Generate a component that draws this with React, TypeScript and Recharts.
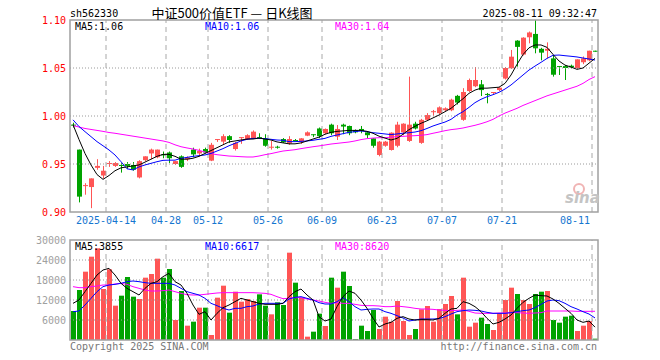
import React from "react";
import { ComposedChart, Bar, Line, XAxis, YAxis, ReferenceLine, Cell } from "recharts";

const YEAR = "2025";
const DATES = [
  "04-03", "04-07", "04-08", "04-09", "04-10", "04-11",
  "04-14", "04-15", "04-16", "04-17", "04-18",
  "04-21", "04-22", "04-23", "04-24", "04-25",
  "04-28", "04-29", "04-30",
  "05-06", "05-07", "05-08", "05-09",
  "05-12", "05-13", "05-14", "05-15", "05-16",
  "05-19", "05-20", "05-21", "05-22", "05-23",
  "05-26", "05-27", "05-28", "05-29", "05-30",
  "06-03", "06-04", "06-05", "06-06",
  "06-09", "06-10", "06-11", "06-12", "06-13",
  "06-16", "06-17", "06-18", "06-19", "06-20",
  "06-23", "06-24", "06-25", "06-26", "06-27",
  "06-30", "07-01", "07-02", "07-03", "07-04",
  "07-07", "07-08", "07-09", "07-10", "07-11",
  "07-14", "07-15", "07-16", "07-17", "07-18",
  "07-21", "07-22", "07-23", "07-24", "07-25",
  "07-28", "07-29", "07-30", "07-31", "08-01",
  "08-04", "08-05", "08-06", "08-07", "08-08",
  "08-11",
];
const TICK_DATES = ["04-14", "04-28", "05-12", "05-26", "06-09", "06-23", "07-07", "07-21", "08-11"];

const OPEN = [
  0.991, 0.965, 0.927, 0.926, 0.946, 0.938, 0.950, 0.948, 0.949, 0.950,
  0.949, 0.936, 0.954, 0.961, 0.957, 0.960, 0.962, 0.950, 0.958, 0.955,
  0.965, 0.961, 0.9656, 0.9535, 0.975, 0.9733, 0.979, 0.9656, 0.977, 0.9757,
  0.9767, 0.978, 0.9767, 0.967, 0.968, 0.976, 0.9715, 0.975, 0.9733, 0.9795,
  0.981, 0.987, 0.982, 0.991, 0.9785, 0.991, 0.9896, 0.9854, 0.9865, 0.983,
  0.9767, 0.9594, 0.969, 0.9646, 0.969, 0.983, 0.974, 0.992, 0.972, 0.996,
  1.004, 1.003, 1.006, 1.006, 1.021, 0.996, 1.026, 1.031, 1.033, 1.023,
  1.024, 1.027, 1.039, 1.0497, 1.0785, 1.064, 1.082, 1.0855, 1.070, 1.068,
  1.060, 1.052, 1.052, 1.0524, 1.050, 1.056, 1.058, 1.068,
];
const HIGH = [
  0.993, 0.965, 0.930, 0.935, 0.955, 0.948, 0.953, 0.952, 0.951, 0.952,
  0.952, 0.954, 0.958, 0.966, 0.965, 0.963, 0.963, 0.953, 0.959, 0.958,
  0.967, 0.966, 0.967, 0.972, 0.976, 0.981, 0.980, 0.973, 0.978, 0.981,
  0.985, 0.982, 0.981, 0.974, 0.969, 0.977, 0.979, 0.976, 0.977, 0.984,
  0.981, 0.988, 0.987, 0.992, 0.9906, 0.992, 0.990, 0.986, 0.9896, 0.984,
  0.977, 0.974, 0.974, 0.983, 0.994, 0.9924, 1.041, 0.994, 0.997, 1.003,
  1.0063, 1.010, 1.009, 1.018, 1.022, 1.029, 1.039, 1.051, 1.0375, 1.024,
  1.025, 1.030, 1.051, 1.0688, 1.079, 1.082, 1.088, 1.100, 1.071, 1.0767,
  1.0635, 1.052, 1.053, 1.0535, 1.059, 1.062, 1.068, 1.068,
];
const LOW = [
  0.988, 0.910, 0.918, 0.904, 0.944, 0.935, 0.947, 0.947, 0.941, 0.945,
  0.943, 0.935, 0.953, 0.955, 0.956, 0.956, 0.951, 0.949, 0.946, 0.953,
  0.957, 0.958, 0.961, 0.953, 0.973, 0.9705, 0.972, 0.964, 0.971, 0.975,
  0.976, 0.976, 0.968, 0.965, 0.966, 0.972, 0.970, 0.974, 0.971, 0.979,
  0.978, 0.977, 0.981, 0.980, 0.975, 0.981, 0.980, 0.982, 0.982, 0.9767,
  0.967, 0.958, 0.968, 0.964, 0.9674, 0.980, 0.973, 0.986, 0.971, 0.995,
  1.0003, 1.002, 1.005, 1.005, 1.012, 0.995, 1.025, 1.030, 1.0208, 1.0132,
  1.022, 1.026, 1.038, 1.049, 1.0514, 1.063, 1.0757, 1.0653, 1.058, 1.060,
  1.041, 1.0427, 1.0375, 1.0497, 1.049, 1.054, 1.057, 1.067,
];
const CLOSE = [
  0.990, 0.916, 0.928, 0.935, 0.948, 0.943, 0.951, 0.951, 0.948, 0.948,
  0.944, 0.953, 0.958, 0.965, 0.965, 0.959, 0.956, 0.953, 0.947, 0.957,
  0.960, 0.9635, 0.962, 0.970, 0.976, 0.979, 0.975, 0.972, 0.978, 0.980,
  0.9837, 0.977, 0.969, 0.968, 0.967, 0.9726, 0.976, 0.9745, 0.9767, 0.983,
  0.9805, 0.979, 0.9865, 0.982, 0.9865, 0.989, 0.982, 0.983, 0.9844, 0.980,
  0.969, 0.9733, 0.9733, 0.9826, 0.991, 0.992, 0.991, 0.987, 0.996, 1.001,
  1.005, 1.009, 1.008, 1.017, 1.014, 1.025, 1.0375, 1.0375, 1.027, 1.022,
  1.025, 1.0295, 1.050, 1.0618, 1.072, 1.0816, 1.087, 1.0705, 1.066, 1.070,
  1.043, 1.051, 1.050, 1.0507, 1.059, 1.060, 1.068, 1.0675,
];
const MA5 = [
  0.991, 0.9755, 0.961, 0.949, 0.939, 0.934, 0.938, 0.943, 0.946, 0.947,
  0.948, 0.949, 0.952, 0.955, 0.958, 0.960, 0.960, 0.958, 0.955, 0.955,
  0.956, 0.958, 0.961, 0.964, 0.967, 0.970, 0.973, 0.974, 0.975, 0.976,
  0.976, 0.977, 0.976, 0.975, 0.973, 0.972, 0.971, 0.971, 0.972, 0.974,
  0.976, 0.978, 0.981, 0.983, 0.984, 0.9845, 0.985, 0.985, 0.985, 0.984,
  0.982, 0.979, 0.977, 0.975, 0.9767, 0.981, 0.9858, 0.9892, 0.9924, 0.995,
  0.998, 1.001, 1.0045, 1.008, 1.013, 1.018, 1.0236, 1.027, 1.029, 1.029,
  1.0295, 1.030, 1.034, 1.0427, 1.0538, 1.064, 1.071, 1.074, 1.074, 1.0715,
  1.0642, 1.0573, 1.053, 1.051, 1.0486, 1.050, 1.055, 1.060,
];
const MA10 = [
  0.996, 0.989, 0.9837, 0.9785, 0.9733, 0.969, 0.9646, 0.9594, 0.9524, 0.945,
  0.9438, 0.947, 0.949, 0.9507, 0.9524, 0.9538, 0.954, 0.954, 0.9559, 0.9569,
  0.958, 0.9587, 0.9594, 0.961, 0.9635, 0.966, 0.969, 0.9715, 0.974, 0.9757,
  0.9767, 0.9767, 0.9764, 0.9757, 0.975, 0.9747, 0.9733, 0.9733, 0.9736, 0.974,
  0.9747, 0.9757, 0.9767, 0.9788, 0.9802, 0.9816, 0.983, 0.9837, 0.9844, 0.9837,
  0.9826, 0.982, 0.9813, 0.9806, 0.9813, 0.982, 0.9826, 0.9833, 0.9847, 0.987,
  0.9896, 0.9917, 0.9937, 0.9965, 1.001, 1.0045, 1.009, 1.0139, 1.0174, 1.0201,
  1.0222, 1.0247, 1.0281, 1.0323, 1.0375, 1.0427, 1.0479, 1.052, 1.0559, 1.060,
  1.0632, 1.0635, 1.0628, 1.0622, 1.0615, 1.0604, 1.0594, 1.0583,
];
const MA30 = [
  0.990, 0.9885, 0.987, 0.986, 0.985, 0.984, 0.9828, 0.982, 0.981, 0.980,
  0.979, 0.978, 0.977, 0.976, 0.975, 0.974, 0.9725, 0.970, 0.968, 0.9667,
  0.9656, 0.9642, 0.9625, 0.9608, 0.9597, 0.959, 0.9583, 0.958, 0.9576, 0.9573,
  0.9573, 0.9583, 0.9597, 0.9608, 0.9622, 0.9635, 0.9642, 0.9649, 0.966, 0.967,
  0.968, 0.9688, 0.9698, 0.9708, 0.9715, 0.9722, 0.9729, 0.974, 0.9754, 0.9764,
  0.977, 0.9774, 0.9774, 0.978, 0.9785, 0.9788, 0.9792, 0.9795, 0.9799, 0.9806,
  0.982, 0.9833, 0.9847, 0.9858, 0.9865, 0.9875, 0.9889, 0.9903, 0.992, 0.994,
  0.9965, 1.000, 1.003, 1.0055, 1.008, 1.011, 1.0135, 1.016, 1.0185, 1.021,
  1.023, 1.025, 1.027, 1.029, 1.031, 1.034, 1.038, 1.041,
];
const VOLUME = [
  8700, 15000, 20500, 25000, 27500, 15300, 21200, 10300, 13300, 18900,
  13000, 12300, 18700, 19800, 24400, 18700, 21300, 6000, 14700, 4300,
  5500, 9700, 9700, 1500, 12700, 16300, 8200, 14500, 11500, 12300,
  11700, 13700, 10300, 7700, 11300, 10500, 26200, 17200, 12700, 1000,
  2500, 7900, 4200, 18700, 15700, 20500, 16200, 300, 4300, 2700,
  9000, 3300, 7000, 5500, 11700, 5700, 1500, 3300, 9200, 10200,
  5500, 9300, 10800, 13200, 7700, 18700, 4000, 5200, 6700, 4800,
  3000, 8000, 12000, 15700, 13800, 12000, 10800, 13800, 14500, 14700,
  6000, 5200, 7000, 7300, 2700, 4300, 5700, 400,
];
const VMA5 = [
  11000, 12000, 14500, 17000, 19500, 21000, 21500, 19500, 17000, 15500,
  14500, 13500, 15500, 17000, 17500, 19000, 20000, 17500, 16500, 14000,
  10500, 7700, 8500, 6000, 8000, 9700, 10500, 11500, 12500, 12000,
  11500, 11000, 10700, 10700, 10700, 11000, 13000, 14500, 15300, 13500,
  12000, 7000, 5700, 6300, 10000, 13000, 14700, 14000, 12000, 9500,
  6500, 3900, 4800, 5300, 6500, 7000, 6300, 6000, 6100, 6100,
  6000, 6500, 8000, 9300, 9500, 11500, 11000, 10000, 8500, 6500,
  4800, 5300, 6300, 7500, 9500, 11300, 12500, 13500, 13300, 13200,
  12300, 11000, 9500, 8000, 6000, 5300, 5700, 3855,
];
const VMA10 = [
  8500, 8700, 10500, 12500, 14500, 16000, 16500, 16700, 17000, 17500,
  17700, 17500, 17200, 17000, 17000, 17000, 17000, 16500, 15500, 14500,
  14000, 13500, 12500, 11000, 10300, 9500, 9000, 9500, 9500, 10000,
  10200, 10800, 11000, 11000, 11000, 11000, 12300, 12800, 13000, 12500,
  12000, 11200, 10800, 10800, 11500, 12700, 11500, 10000, 9000, 9200,
  9300, 9300, 8500, 8000, 7300, 6600, 5700, 6000, 6300, 6300,
  6300, 6400, 7000, 7800, 8500, 8800, 9000, 8900, 8700, 8300,
  8000, 8000, 8000, 8200, 8500, 8800, 9000, 9700, 10700, 11700,
  12000, 11800, 11000, 10000, 9300, 8500, 7800, 6617,
];
const VMA30 = [
  16000, 15700, 15700, 16000, 16200, 16500, 16500, 16800, 17000, 16700,
  16000, 15500, 15000, 14700, 14700, 14800, 15000, 14500, 14000, 13600,
  13500, 13500, 13700, 13900, 14100, 14200, 14200, 14200, 14200, 14200,
  14200, 14100, 14000, 13700, 13000, 12400, 12500, 12700, 12700, 12300,
  12000, 11700, 11300, 11000, 11200, 11000, 11000, 10700, 10400, 10300,
  10300, 10200, 10000, 10000, 10200, 10000, 9800, 9500, 9300, 9300,
  9200, 9000, 8900, 8800, 8900, 9000, 8600, 8100, 8000, 8000,
  8000, 8100, 8100, 8200, 8200, 8100, 8000, 8100, 8200, 8700,
  8700, 8700, 8700, 8700, 8600, 8600, 8600, 8620,
];

const PRICE_TICKS = [0.9, 0.95, 1.0, 1.05, 1.1];
const PRICE_GRID = [0.95, 1.0, 1.05];
const VOL_TICKS = [6000, 12000, 18000, 24000, 30000];
const VOL_GRID = [6000, 12000, 18000, 24000];

const RED = "#ff5555";
const GREEN = "#00a300";
const MONO = "'DejaVu Sans Mono', monospace";

const priceData = DATES.map((date, i) => ({
  date,
  o: OPEN[i],
  h: HIGH[i],
  l: LOW[i],
  c: CLOSE[i],
  ma5: MA5[i],
  ma10: MA10[i],
  ma30: MA30[i],
}));

const volData = DATES.map((date, i) => ({
  date,
  vol: VOLUME[i],
  up: CLOSE[i] >= OPEN[i],
  vma5: VMA5[i],
  vma10: VMA10[i],
  vma30: VMA30[i],
}));

function Candle(props: any) {
  const { x, y, width, height, payload } = props;
  const { o, h, l, c } = payload;
  const top = Math.min(y, y + height);
  const span = Math.abs(height);
  const ppu = h > l ? span / (h - l) : 0;
  const yOf = (v: number) => top + (h - v) * ppu;
  const color = c >= o ? RED : GREEN;
  const bodyTop = yOf(Math.max(o, c));
  const bodyH = Math.max(1, Math.abs(yOf(o) - yOf(c)));
  const left = Math.round(x);
  const mid = left + Math.floor(width / 2) + 0.5;
  return (
    <g>
      <line x1={mid} x2={mid} y1={top} y2={top + span} stroke={color} strokeWidth={1} />
      <rect x={left} y={bodyTop} width={Math.round(width)} height={bodyH} fill={color} />
    </g>
  );
}

function DateTick(props: any) {
  const { x, y, payload } = props;
  const v = payload.value;
  if (!TICK_DATES.includes(v)) return null;
  const half = payload.offset ?? 3;
  const first = v === TICK_DATES[0];
  const last = v === TICK_DATES[TICK_DATES.length - 1];
  return (
    <text
      x={last ? x - half - 2 : x - half}
      y={y + 12}
      textAnchor={last ? "end" : "middle"}
      fill="#1576d0"
      fontSize={10}
      fontFamily={MONO}
    >
      {first ? `${YEAR}-${v}` : v}
    </text>
  );
}

const gridH = { stroke: "#9a9a9a", strokeDasharray: "1 2" };
const gridV = { stroke: "#a8a8a8", strokeDasharray: "5 4" };

export default function App() {
  return (
    <div style={{ position: "absolute", left: 0, top: 0, width: 660, height: 360, background: "#fff" }}>
      <div style={{ position: "absolute", left: 0, top: 0 }}>
        <ComposedChart width={660} height={230} data={priceData} margin={{ top: 20, right: 62, bottom: 0, left: 0 }}>
          <XAxis
            dataKey="date"
            interval={0}
            axisLine={false}
            tickLine={false}
            tickSize={0}
            tickMargin={0}
            height={18}
            tick={<DateTick />}
          />
          <YAxis
            type="number"
            domain={[0.9, 1.1]}
            ticks={PRICE_TICKS}
            allowDataOverflow
            width={70}
            axisLine={false}
            tickLine={false}
            tickSize={0}
            tickMargin={4}
            tickFormatter={(v: number) => v.toFixed(2)}
            tick={{ fill: "#ff0000", fontSize: 10, fontFamily: MONO }}
          />
          {PRICE_GRID.map((v) => (
            <ReferenceLine key={v} y={v} {...gridH} />
          ))}
          {TICK_DATES.map((d) => (
            <ReferenceLine key={d} x={d} position="start" {...gridV} />
          ))}
          <Bar
            dataKey={(d: any) => [d.l, d.h]}
            barSize={5}
            shape={<Candle />}
            isAnimationActive={false}
          />
          <Line type="linear" dataKey="ma30" stroke="#ff00ff" strokeWidth={1} dot={false} isAnimationActive={false} />
          <Line type="linear" dataKey="ma10" stroke="#0000ff" strokeWidth={1} dot={false} isAnimationActive={false} />
          <Line type="linear" dataKey="ma5" stroke="#000000" strokeWidth={1} dot={false} isAnimationActive={false} />
        </ComposedChart>
      </div>
      <div style={{ position: "absolute", left: 0, top: 230 }}>
        <ComposedChart width={660} height={130} data={volData} margin={{ top: 10, right: 62, bottom: 20, left: 0 }}>
          <XAxis dataKey="date" hide />
          <YAxis
            type="number"
            domain={[0, 30000]}
            ticks={VOL_TICKS}
            allowDataOverflow
            width={70}
            axisLine={false}
            tickLine={false}
            tickSize={0}
            tickMargin={4}
            tick={{ fill: "#a0a0a0", fontSize: 10, fontFamily: MONO }}
          />
          {VOL_GRID.map((v) => (
            <ReferenceLine key={v} y={v} {...gridH} />
          ))}
          {TICK_DATES.map((d) => (
            <ReferenceLine key={d} x={d} position="start" {...gridV} />
          ))}
          <Bar dataKey="vol" barSize={5} isAnimationActive={false}>
            {volData.map((d, i) => (
              <Cell key={i} fill={d.up ? RED : GREEN} />
            ))}
          </Bar>
          <Line type="linear" dataKey="vma30" stroke="#ff00ff" strokeWidth={1} dot={false} isAnimationActive={false} />
          <Line type="linear" dataKey="vma10" stroke="#0000ff" strokeWidth={1} dot={false} isAnimationActive={false} />
          <Line type="linear" dataKey="vma5" stroke="#000000" strokeWidth={1} dot={false} isAnimationActive={false} />
        </ComposedChart>
      </div>
      <svg
        width={660}
        height={360}
        style={{ position: "absolute", left: 0, top: 0, pointerEvents: "none" }}
      >
        <rect x={70} y={20} width={528} height={192} fill="none" stroke="#a0a0a0" strokeWidth={1.5} />
        <rect x={70} y={240} width={528} height={100} fill="none" stroke="#a0a0a0" strokeWidth={1.5} />
        <text x={70} y={16.5} fontSize={10} fontFamily={MONO} fill="#000">sh562330</text>
        <text x={232} y={17.5} fontSize={13} fontFamily="'Noto Sans CJK SC', sans-serif" textAnchor="middle" fill="#000">
          中证500价值ETF — 日K线图
        </text>
        <text x={597} y={16.5} fontSize={10} fontFamily={MONO} textAnchor="end" fill="#000">2025-08-11 09:32:47</text>
        <text x={75} y={30} fontSize={10} fontFamily={MONO} fill="#000">MA5:1.06</text>
        <text x={205} y={30} fontSize={10} fontFamily={MONO} fill="#0000ff">MA10:1.06</text>
        <text x={335} y={30} fontSize={10} fontFamily={MONO} fill="#ff00ff">MA30:1.04</text>
        <text x={75} y={250} fontSize={10} fontFamily={MONO} fill="#000">MA5:3855</text>
        <text x={205} y={250} fontSize={10} fontFamily={MONO} fill="#0000ff">MA10:6617</text>
        <text x={335} y={250} fontSize={10} fontFamily={MONO} fill="#ff00ff">MA30:8620</text>
        <text x={70} y={349.5} fontSize={10} fontFamily={MONO} fill="#777">Copyright 2025 SINA.COM</text>
        <text x={597} y={349.5} fontSize={10} fontFamily={MONO} textAnchor="end" fill="#777">http://finance.sina.com.cn</text>
        <circle cx={579} cy={189} r={5} fill="none" stroke="#f0b4b4" strokeWidth={2} />
        <text x={565} y={203} fontSize={15} fontWeight="bold" fontStyle="italic" fontFamily="'DejaVu Sans', sans-serif" fill="#c4c4c4">
          sina
        </text>
      </svg>
    </div>
  );
}
